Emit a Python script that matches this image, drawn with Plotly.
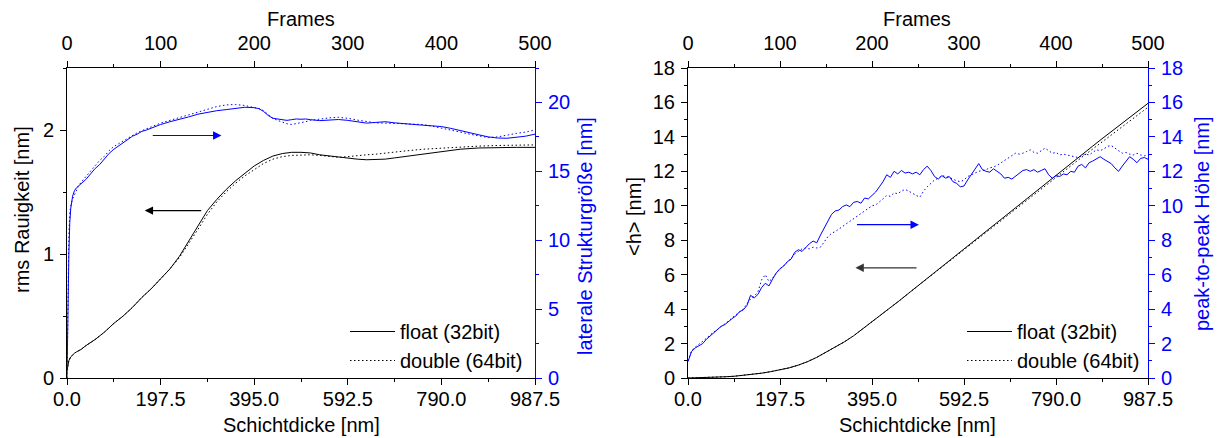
import plotly.graph_objects as go

W, H = 1218, 438
BLUE = "#0000ff"
FONT = "Liberation Sans, Arial, sans-serif"
FS = 20
DOT = "1.5px,2.5px"

# ---------------- left panel: rms roughness / lateral structure size ----------------
rms_frames = [0, 1, 2, 4, 6, 8, 10, 15, 20, 25, 30, 40, 50, 60, 70, 80, 90, 100, 110, 120,
              130, 140, 150, 160, 170, 180, 190, 200, 210, 220, 230, 240, 250, 260, 270, 280,
              290, 300, 310, 320, 330, 340, 350, 360, 380, 400, 420, 440, 460, 480, 500]
rms_float = [0.06, 0.11, 0.14, 0.17, 0.19, 0.20, 0.21, 0.23, 0.26, 0.285, 0.31, 0.37, 0.44,
             0.50, 0.57, 0.65, 0.72, 0.80, 0.88, 0.98, 1.10, 1.23, 1.35, 1.44, 1.52, 1.59,
             1.65, 1.71, 1.755, 1.79, 1.81, 1.82, 1.82, 1.815, 1.80, 1.79, 1.78, 1.77, 1.765,
             1.76, 1.76, 1.765, 1.775, 1.785, 1.81, 1.83, 1.845, 1.855, 1.86, 1.86, 1.86]
rms_double = [0.06, 0.11, 0.14, 0.17, 0.19, 0.20, 0.21, 0.23, 0.26, 0.285, 0.31, 0.37, 0.44,
              0.50, 0.57, 0.65, 0.72, 0.80, 0.88, 0.97, 1.08, 1.20, 1.32, 1.42, 1.50, 1.57,
              1.63, 1.68, 1.73, 1.765, 1.785, 1.795, 1.80, 1.80, 1.795, 1.785, 1.78, 1.785,
              1.795, 1.80, 1.805, 1.815, 1.82, 1.83, 1.845, 1.855, 1.865, 1.87, 1.875, 1.878, 1.88]

lat_frames = [0, 1, 2, 3, 4, 6, 8, 10, 12, 15, 20, 25, 30, 35, 40, 45, 50, 55, 60, 65, 70, 75,
              80, 85, 90, 95, 100, 110, 120, 130, 140, 150, 160, 170, 180, 190, 200, 205, 210,
              215, 220, 225, 230, 235, 240, 245, 250, 255, 260, 270, 280, 290, 300, 310, 320,
              330, 340, 350, 360, 370, 380, 390, 400, 410, 420, 430, 440, 450, 460, 470, 480,
              490, 500]
lat_float = [0.0, 6.0, 9.0, 11.3, 12.3, 13.2, 13.6, 13.8, 13.95, 14.1, 14.4, 14.8, 15.2, 15.5,
             15.9, 16.3, 16.6, 16.85, 17.1, 17.35, 17.55, 17.7, 17.9, 18.0, 18.15, 18.3, 18.4,
             18.6, 18.75, 18.95, 19.15, 19.3, 19.4, 19.48, 19.55, 19.65, 19.62, 19.55, 19.35,
             19.05, 18.85, 18.8, 18.72, 18.7, 18.75, 18.8, 18.78, 18.8, 18.75, 18.68, 18.72,
             18.76, 18.7, 18.6, 18.5, 18.55, 18.6, 18.52, 18.45, 18.4, 18.35, 18.3, 18.25,
             18.12, 17.95, 17.8, 17.65, 17.5, 17.42, 17.4, 17.45, 17.55, 17.7]
lat_double = [0.0, 7.0, 10.5, 12.0, 12.5, 13.0, 13.3, 13.6, 13.9, 14.2, 14.6, 15.0, 15.45,
              15.8, 16.1, 16.5, 16.8, 17.0, 17.25, 17.45, 17.65, 17.8, 17.95, 18.1, 18.25,
              18.4, 18.5, 18.7, 18.9, 19.1, 19.3, 19.5, 19.7, 19.82, 19.85, 19.78, 19.65,
              19.55, 19.4, 19.1, 18.85, 18.7, 18.55, 18.45, 18.4, 18.45, 18.5, 18.6, 18.7,
              18.8, 18.88, 18.92, 18.85, 18.72, 18.6, 18.52, 18.5, 18.48, 18.45, 18.42, 18.4,
              18.28, 18.15, 18.0, 17.85, 17.7, 17.55, 17.45, 17.5, 17.65, 17.75, 17.85, 18.0]

# ---------------- right panel: mean height / peak-to-peak height ----------------
h_frames = [0, 10, 20, 30, 40, 50, 60, 70, 80, 90, 100, 110, 120, 130, 140, 150, 160, 170,
            180, 190, 200, 210, 220, 230, 240, 250, 260, 270, 280, 290, 300, 310, 320, 330,
            340, 350, 360, 370, 380, 390, 400, 410, 420, 430, 440, 450, 460, 470, 480, 490, 500]
h_float = [0.0, 0.01, 0.02, 0.04, 0.07, 0.10, 0.15, 0.21, 0.28, 0.37, 0.47, 0.59, 0.75, 0.95,
           1.2, 1.5, 1.8, 2.1, 2.45, 2.85, 3.25, 3.65, 4.07, 4.5, 4.93, 5.36, 5.79, 6.22,
           6.65, 7.07, 7.5, 7.93, 8.36, 8.79, 9.22, 9.65, 10.08, 10.51, 10.94, 11.37, 11.8,
           12.22, 12.64, 13.06, 13.47, 13.89, 14.3, 14.71, 15.12, 15.53, 15.95]
h_double = [0.0, 0.01, 0.02, 0.04, 0.07, 0.10, 0.15, 0.21, 0.28, 0.37, 0.47, 0.59, 0.75, 0.95,
            1.2, 1.5, 1.8, 2.1, 2.45, 2.85, 3.25, 3.65, 4.07, 4.5, 4.93, 5.35, 5.77, 6.19,
            6.61, 7.03, 7.45, 7.87, 8.29, 8.71, 9.13, 9.55, 9.97, 10.39, 10.81, 11.23, 11.65,
            12.1, 12.5, 12.9, 13.3, 13.7, 14.1, 14.5, 14.9, 15.3, 15.72]

pp_frames = list(range(0, 501, 4))
pp_float = [0.95, 1.55, 1.75, 1.9, 2.0, 2.25, 2.45, 2.6, 2.8, 3.0, 3.1, 3.3, 3.45, 3.6, 3.85,
            3.95, 4.2, 4.8, 4.65, 4.85, 5.25, 5.5, 5.35, 5.75, 6.1, 6.35, 6.5, 6.75, 6.9, 7.3,
            7.45, 7.35, 7.6, 7.8, 7.95, 7.85, 8.3, 8.7, 9.1, 9.5, 9.7, 9.75, 9.95, 10.05, 9.95,
            10.2, 10.25, 10.15, 10.45, 10.4, 10.6, 10.8, 11.1, 11.4, 11.8, 11.65, 12.0, 11.85,
            12.05, 11.9, 11.95, 11.85, 11.95, 11.8, 12.1, 12.3, 12.05, 11.7, 11.55, 11.75,
            11.6, 11.7, 11.4, 11.3, 11.1, 11.15, 11.5, 11.8, 12.1, 12.45, 12.1, 12.0, 11.95,
            12.15, 12.0, 11.85, 11.6, 11.65, 11.55, 11.7, 11.9, 12.05, 12.1, 12.0, 12.1, 11.95,
            12.05, 12.15, 11.8, 11.6, 11.75, 11.7, 11.85, 11.8, 12.0, 11.95, 12.3, 12.4, 12.2,
            12.5, 12.6, 12.75, 12.85, 12.7, 12.55, 12.45, 12.2, 12.0, 12.3, 12.6, 12.85, 12.7,
            12.5, 12.75, 12.8, 12.7]
pp_double = [1.0, 1.6, 1.8, 1.95, 2.1, 2.3, 2.5, 2.65, 2.85, 3.0, 3.15, 3.3, 3.5, 3.65, 3.8,
             4.0, 4.3, 4.6, 4.75, 5.0, 5.7, 6.0, 5.6, 5.8, 6.1, 6.3, 6.55, 6.75, 6.95, 7.2,
             7.35, 7.5, 7.55, 7.5, 7.6, 7.55, 7.6, 7.9, 8.2, 8.4, 8.5, 8.65, 8.8, 8.9, 9.1,
             9.25, 9.4, 9.5, 9.65, 9.85, 10.0, 10.05, 10.2, 10.4, 10.6, 10.55, 10.75, 10.7,
             10.85, 10.95, 10.85, 10.7, 10.6, 10.5, 10.85, 11.1, 11.3, 11.5, 11.6, 11.75, 11.7,
             11.65, 11.55, 11.45, 11.4, 11.5, 11.7, 11.8, 11.9, 12.0, 12.05, 12.1, 12.2, 12.25,
             12.35, 12.5, 12.65, 12.8, 12.9, 13.05, 13.0, 13.05, 13.15, 13.25, 13.1, 13.05,
             13.2, 13.35, 13.2, 13.05, 13.1, 12.95, 13.0, 12.95, 12.9, 12.85, 12.8, 12.9, 13.0,
             12.95, 13.1, 13.25, 13.2, 13.3, 13.45, 13.5, 13.35, 13.2, 13.05, 13.1, 13.0, 12.95,
             13.05, 12.95, 12.9, 12.95]

thickness_range = [0, 987.5]
frames_range = [0, 500]


def px(x):
    return x / W


def py(y):
    return 1 - y / H


fig = go.Figure()

# invisible anchors so the thickness (bottom) axes own a subplot
for xa, ya in (("x", "y"), ("x3", "y3")):
    fig.add_trace(go.Scatter(x=thickness_range, y=[0, 0], xaxis=xa, yaxis=ya, mode="markers",
                             marker=dict(opacity=0, size=1), showlegend=False,
                             hoverinfo="skip"))

# left panel traces (frames on the top axis)
fig.add_trace(go.Scatter(x=rms_frames, y=rms_float, xaxis="x2", yaxis="y", mode="lines",
                         name="float (32bit)", legend="legend",
                         line=dict(color="black", width=1)))
fig.add_trace(go.Scatter(x=rms_frames, y=rms_double, xaxis="x2", yaxis="y", mode="lines",
                         name="double (64bit)", legend="legend",
                         line=dict(color="black", width=1, dash=DOT)))
fig.add_trace(go.Scatter(x=lat_frames, y=lat_float, xaxis="x2", yaxis="y2", mode="lines",
                         showlegend=False, line=dict(color=BLUE, width=1)))
fig.add_trace(go.Scatter(x=lat_frames, y=lat_double, xaxis="x2", yaxis="y2", mode="lines",
                         showlegend=False, line=dict(color=BLUE, width=1, dash=DOT)))

# right panel traces
fig.add_trace(go.Scatter(x=h_frames, y=h_float, xaxis="x4", yaxis="y3", mode="lines",
                         name="float (32bit)", legend="legend2",
                         line=dict(color="black", width=1)))
fig.add_trace(go.Scatter(x=h_frames, y=h_double, xaxis="x4", yaxis="y3", mode="lines",
                         name="double (64bit)", legend="legend2",
                         line=dict(color="black", width=1, dash=DOT)))
fig.add_trace(go.Scatter(x=pp_frames, y=pp_float, xaxis="x4", yaxis="y4", mode="lines",
                         showlegend=False, line=dict(color=BLUE, width=1)))
fig.add_trace(go.Scatter(x=pp_frames, y=pp_double, xaxis="x4", yaxis="y4", mode="lines",
                         showlegend=False, line=dict(color=BLUE, width=1, dash=DOT)))

tickfont = dict(family=FONT, size=FS, color="black")
bluefont = dict(family=FONT, size=FS, color=BLUE)

common = dict(showline=True, linewidth=1, showgrid=False, zeroline=False, automargin=False,
              ticks="outside", ticklen=6, tickwidth=1, tickmode="linear", tick0=0)


def xbottom(domain, anchor):
    return dict(common, domain=domain, anchor=anchor, range=thickness_range, dtick=197.5,
                tickformat=".1f", tickcolor="black", linecolor="black",
                minor=dict(dtick=98.75, ticks="outside", ticklen=3, tickcolor="black"),
                tickfont=tickfont, ticklabelstandoff=-3)


def xtop(overlay, anchor):
    return dict(common, overlaying=overlay, anchor=anchor, side="top", range=frames_range,
                dtick=100, tickcolor="black", linecolor="black",
                minor=dict(dtick=50, ticks="outside", ticklen=3, tickcolor="black"),
                tickfont=tickfont, ticklabelstandoff=3)


def yleft(domain, anchor, rng, dt, mdt):
    return dict(common, domain=domain, anchor=anchor, range=rng, dtick=dt,
                tickcolor="black", linecolor="black",
                minor=dict(dtick=mdt, ticks="outside", ticklen=3, tickcolor="black"),
                tickfont=tickfont, ticklabelstandoff=2)


def yright(overlay, anchor, rng, dt, mdt):
    return dict(common, overlaying=overlay, anchor=anchor, side="right", range=rng,
                dtick=dt, tickcolor=BLUE, linecolor=BLUE,
                minor=dict(dtick=mdt, ticks="outside", ticklen=3, tickcolor=BLUE),
                tickfont=bluefont, ticklabelstandoff=2)


ydom = [py(378), py(68)]
left_dom = [px(67), px(535)]
right_dom = [px(688), px(1148)]

legend_style = dict(xanchor="left", yanchor="top", bgcolor="rgba(0,0,0,0)",
                    font=dict(family=FONT, size=FS), tracegroupgap=0, itemwidth=45)

fig.update_layout(
    width=W, height=H,
    margin=dict(l=0, r=0, t=0, b=0, pad=0, autoexpand=False),
    paper_bgcolor="white", plot_bgcolor="white",
    font=dict(family=FONT, size=FS, color="black"),
    xaxis=xbottom(left_dom, "y"),
    xaxis2=xtop("x", "y"),
    yaxis=yleft(ydom, "x", [0, 2.5], 1, 0.5),
    yaxis2=yright("y", "x", [0, 22.5], 5, 2.5),
    xaxis3=xbottom(right_dom, "y3"),
    xaxis4=xtop("x3", "y3"),
    yaxis3=yleft(ydom, "x3", [0, 18], 2, 1),
    yaxis4=yright("y3", "x3", [0, 18], 2, 1),
    legend=dict(legend_style, x=px(345), y=py(312)),
    legend2=dict(legend_style, x=px(962), y=py(312)),
)

# axis titles
titles = [
    ("Frames", px(301), py(19), 0, "black"),
    ("Schichtdicke [nm]", px(301), py(425), 0, "black"),
    ("rms Rauigkeit [nm]", px(22), py(210), -90, "black"),
    ("laterale Strukturgröße [nm]", px(585), py(236), -90, BLUE),
    ("Frames", px(917), py(19), 0, "black"),
    ("Schichtdicke [nm]", px(917), py(425), 0, "black"),
    ("<h> [nm]", px(634), py(217), -90, "black"),
    ("peak-to-peak Höhe [nm]", px(1202), py(224), -90, BLUE),
]
for text, x, y, ang, col in titles:
    fig.add_annotation(text=text.replace("<", "&lt;").replace(">", "&gt;"), x=x, y=y,
                       xref="paper", yref="paper", showarrow=False, textangle=ang,
                       xanchor="center", yanchor="middle",
                       font=dict(family=FONT, size=FS, color=col))

# direction arrows pointing to the axis each curve belongs to
arrows = [
    # (head_x, head_y, tail_x, tail_y, xref, yref, color)
    (165, 17.6, 90, 17.6, "x2", "y2", BLUE),
    (83, 1.35, 145, 1.35, "x2", "y", "black"),
    (251, 8.9, 182, 8.9, "x4", "y4", BLUE),
    (182, 6.4, 250, 6.4, "x4", "y3", "#333333"),
]
for hx, hy, tx, ty, xr, yr, col in arrows:
    fig.add_annotation(x=hx, y=hy, ax=tx, ay=ty, xref=xr, yref=yr, axref=xr, ayref=yr,
                       text="", showarrow=True, arrowhead=2, arrowsize=1.4,
                       arrowwidth=1.2, arrowcolor=col)

fig.write_html("out.html")
